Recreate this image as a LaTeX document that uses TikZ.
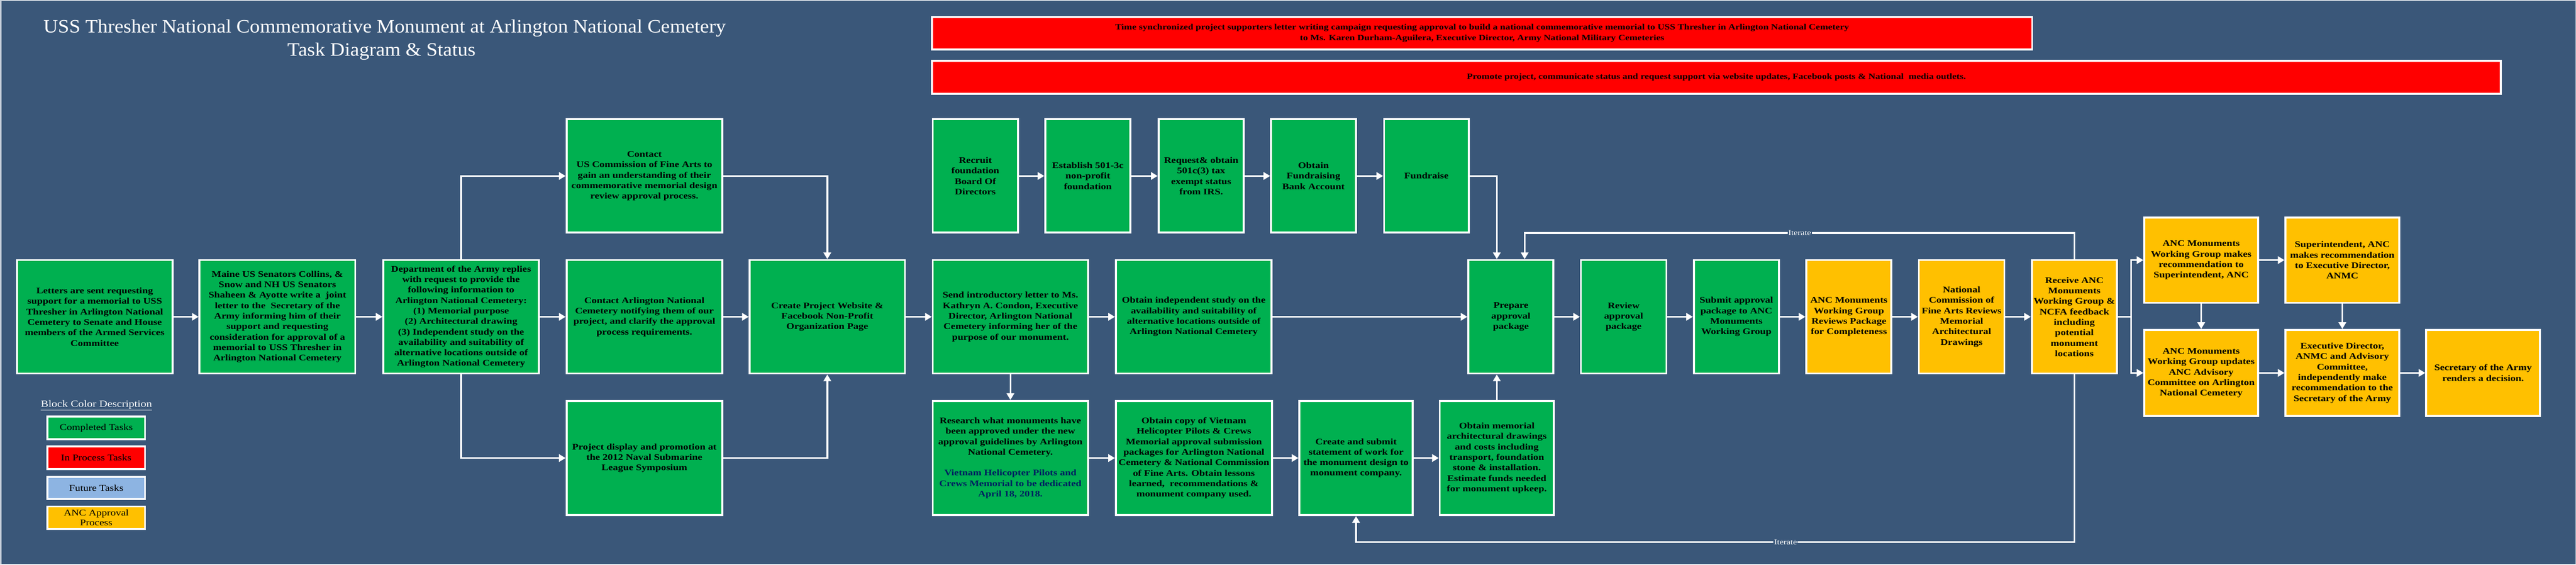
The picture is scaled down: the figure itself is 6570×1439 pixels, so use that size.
\documentclass[tikz,border=0pt]{standalone}
\usepackage{fontspec}
\setmainfont[FakeStretch=1.2]{Liberation Serif}
\newfontfamily\titlefont[FakeStretch=1.07]{Liberation Serif}
\usetikzlibrary{arrows.meta,calc}
\definecolor{bgblue}{RGB}{58,87,121}
\definecolor{edgegray}{RGB}{200,208,218}
\definecolor{tgreen}{RGB}{0,176,80}
\definecolor{tred}{RGB}{255,0,0}
\definecolor{tyellow}{RGB}{255,192,0}
\definecolor{tlblue}{RGB}{141,180,226}
\definecolor{tnavy}{RGB}{0,32,96}
\newcommand\bx[7]{%
  \pgfmathsetmacro\bxcx{(#2+#4)/2}%
  \pgfmathsetmacro\bxcy{(#3+#5)/2}%
  \pgfmathsetmacro\bxw{#4-#2}%
  \pgfmathsetmacro\bxh{#5-#3}%
  \node[#6, minimum width=\bxw pt, minimum height=\bxh pt] (#1) at (\bxcx,\bxcy) {#7};}
\begin{document}
\begin{tikzpicture}[x=1pt,y=-1pt,
  box/.style={draw=white, line width=5pt, align=center, inner sep=2pt, text=black,
    font=\fontsize{21.8}{26.7}\selectfont\bfseries},
  gbox/.style={box, fill=tgreen},
  ybox/.style={box, fill=tyellow},
  rbox/.style={box, fill=tred, font=\fontsize{20.5}{28}\selectfont\bfseries},
  legbox/.style={box, font=\fontsize{22.5}{25}\selectfont},
  arr/.style={draw=white, line width=4.5pt, -{Triangle[length=17pt,width=19pt]}},
  conn/.style={draw=white, line width=4.5pt, line cap=rect},
  itlab/.style={fill=bgblue, text=white, inner sep=2pt, font=\fontsize{19}{20}\selectfont},
  titletext/.style={text=white, anchor=base, inner sep=0pt, font=\titlefont\fontsize{48}{56}\selectfont},
]
\useasboundingbox (0,0) rectangle (6570,1439);
\fill[edgegray] (0,0) rectangle (6570,1439);
\fill[bgblue] (4,2) rectangle (6568,1437);

% title
\node[titletext] (title1) at (981,83) {USS Thresher National Commemorative Monument at Arlington National Cemetery};
\node[titletext] (title2) at (973,142) {Task Diagram \& Status};

% banners
\bx{ban1}{2377}{43}{5183}{126}{rbox}{Time synchronized project supporters letter writing campaign requesting approval to build a national commemorative memorial to USS Thresher in Arlington National Cemetery\\to Ms. Karen Durham-Aguilera, Executive Director, Army National Military Cemeteries}
\bx{ban2}{2377}{155}{6378}{239}{rbox}{Promote project, communicate status and request support via website updates, Facebook posts \& National\ \ media outlets.}

% main row
\bx{B1}{43}{663}{440}{952}{gbox}{Letters are sent requesting\\support for a memorial to USS\\Thresher in Arlington National\\Cemetery to Senate and House\\members of the Armed Services\\Committee}
\bx{B2}{509}{663}{906}{952}{gbox}{Maine US Senators Collins, \&\\Snow and NH US Senators\\Shaheen \& Ayotte write a\ \ joint\\letter to the\ \ Secretary of the\\Army informing him of their\\support and requesting\\consideration for approval of a\\memorial to USS Thresher in\\Arlington National Cemetery}
\bx{B3}{978}{663}{1374}{952}{gbox}{Department of the Army replies\\with request to provide the\\following information to\\Arlington National Cemetery:\\(1) Memorial purpose\\(2) Architectural drawing\\(3) Independent study on the\\availability and suitability of\\alternative locations outside of\\Arlington National Cemetery}
\bx{B4}{1445}{663}{1842}{952}{gbox}{Contact Arlington National\\Cemetery notifying them of our\\project, and clarify the approval\\process requirements.}
\bx{B5}{1912}{663}{2308}{952}{gbox}{Create Project Website \&\\Facebook Non-Profit\\Organization Page}
\bx{B6}{2379}{663}{2775}{952}{gbox}{Send introductory letter to Ms.\\Kathryn A. Condon, Executive\\Director, Arlington National\\Cemetery informing her of the\\purpose of our monument.}
\bx{B7}{2846}{663}{3243}{952}{gbox}{Obtain independent study on the\\availability and suitability of\\alternative locations outside of\\Arlington National Cemetery}
\bx{B8}{3745}{663}{3962}{952}{gbox}{Prepare\\approval\\package}
\bx{B9}{4032}{663}{4250}{952}{gbox}{Review\\approval\\package}
\bx{B10}{4320}{663}{4537}{952}{gbox}{Submit approval\\package to ANC\\Monuments\\Working Group}
\bx{B11}{4607}{663}{4824}{952}{ybox}{ANC Monuments\\Working Group\\Reviews Package\\for Completeness}
\bx{B12}{4894}{663}{5112}{952}{ybox}{National\\Commission of\\Fine Arts Reviews\\Memorial\\Architectural\\Drawings}
\bx{B13}{5182}{663}{5399}{952}{ybox}{Receive ANC\\Monuments\\Working Group \&\\NCFA feedback\\including\\potential\\monument\\locations}

% top row
\bx{T1}{1445}{304}{1842}{593}{gbox}{Contact\\US Commission of Fine Arts to\\gain an understanding of their\\commemorative memorial design\\review approval process.}
\bx{T2}{2379}{304}{2596}{593}{gbox}{Recruit\\foundation\\Board Of\\Directors}
\bx{T3}{2666}{304}{2883}{593}{gbox}{Establish 501-3c\\non-profit\\foundation}
\bx{T4}{2955}{304}{3172}{593}{gbox}{Request\& obtain\\501c(3) tax\\exempt status\\from IRS.}
\bx{T5}{3242}{304}{3458}{593}{gbox}{Obtain\\Fundraising\\Bank Account}
\bx{T6}{3530}{304}{3746}{593}{gbox}{Fundraise}

% lower row
\bx{L1}{1445}{1022}{1842}{1313}{gbox}{Project display and promotion at\\the 2012 Naval Submarine\\League Symposium}
\bx{L2}{2379}{1022}{2775}{1313}{gbox}{Research what monuments have\\been approved under the new\\approval guidelines by Arlington\\National Cemetery.\\[26.7pt]\textcolor{tnavy}{Vietnam Helicopter Pilots and}\\\textcolor{tnavy}{Crews Memorial to be dedicated}\\\textcolor{tnavy}{April 18, 2018.}}
\bx{L3}{2846}{1022}{3244}{1313}{gbox}{Obtain copy of Vietnam\\Helicopter Pilots \& Crews\\Memorial approval submission\\packages for Arlington National\\Cemetery \& National Commission\\of Fine Arts. Obtain lessons\\learned,\ \ recommendations \&\\monument company used.}
\bx{L4}{3314}{1022}{3603}{1313}{gbox}{Create and submit\\statement of work for\\the monument design to\\monument company.}
\bx{L5}{3672}{1022}{3963}{1313}{gbox}{Obtain memorial\\architectural drawings\\and costs including\\transport, foundation\\stone \& installation.\\Estimate funds needed\\for monument upkeep.}

% ANC approval chain
\bx{R1}{5469}{554}{5759}{772}{ybox}{ANC Monuments\\Working Group makes\\recommendation to\\Superintendent, ANC}
\bx{R2}{5829}{554}{6119}{772}{ybox}{Superintendent, ANC\\makes recommendation\\to Executive Director,\\ANMC}
\bx{R3}{5469}{841}{5759}{1060}{ybox}{ANC Monuments\\Working Group updates\\ANC Advisory\\Committee on Arlington\\National Cemetery}
\bx{R4}{5829}{841}{6119}{1060}{ybox}{Executive Director,\\ANMC and Advisory\\Committee,\\independently make\\recommendation to the\\Secretary of the Army}
\bx{R5}{6188}{841}{6478}{1060}{ybox}{Secretary of the Army\\renders a decision.}

% legend
\node[text=white, anchor=base, inner sep=0pt, font=\fontsize{24}{26}\selectfont] (legtitle) at (246,1038) {\underline{Block Color Description}};
\bx{LG1}{121}{1062}{370}{1119}{legbox, fill=tgreen}{Completed Tasks}
\bx{LG2}{121}{1138}{370}{1196}{legbox, fill=tred}{In Process Tasks}
\bx{LG3}{121}{1215}{370}{1272}{legbox, fill=tlblue}{Future Tasks}
\bx{LG4}{121}{1291}{370}{1348}{legbox, fill=tyellow}{ANC Approval\\Process}

% connectors
\draw[arr] (B1.east) -- (B2.west);
\draw[arr] (B2.east) -- (B3.west);
\draw[arr] (B3.east) -- (B4.west);
\draw[arr] (B3.north) |- (T1.west);
\draw[arr] (B3.south) |- (L1.west);
\draw[arr] (T1.east) -| (B5.north);
\draw[arr] (B4.east) -- (B5.west);
\draw[arr] (L1.east) -| (B5.south);
\draw[arr] (B5.east) -- (B6.west);
\draw[arr] (B6.east) -- (B7.west);
\draw[arr] (B6.south) -- (L2.north);
\draw[arr] (B7.east) -- (B8.west);
\draw[arr] (T2.east) -- (T3.west);
\draw[arr] (T3.east) -- (T4.west);
\draw[arr] (T4.east) -- (T5.west);
\draw[arr] (T5.east) -- (T6.west);
\draw[arr] (T6.east) -| (B8.north -| L5.north);
\draw[arr] (L2.east) -- (L3.west);
\draw[arr] (L3.east) -- (L4.west);
\draw[arr] (L4.east) -- (L5.west);
\draw[arr] (L5.north) -- (L5.north |- B8.south);
\draw[arr] (B8.east) -- (B9.west);
\draw[arr] (B9.east) -- (B10.west);
\draw[arr] (B10.east) -- (B11.west);
\draw[arr] (B11.east) -- (B12.west);
\draw[arr] (B12.east) -- (B13.west);
\coordinate (br) at ($(B13.east)+(34,0)$);
\draw[conn] (B13.east) -- (br);
\draw[arr] (br) |- (R1.west);
\draw[arr] (br) |- (R3.west);
\draw[arr] (R1.east) -- (R2.west);
\draw[arr] (R1.south) -- (R3.north);
\draw[arr] (R2.south) -- (R4.north);
\draw[arr] (R3.east) -- (R4.west);
\draw[arr] (R4.east) -- (R5.west);
% iterate loops
\coordinate (b8r) at ($(B8.north)+(35,0)$);
\coordinate (itopy) at (0,594);
\coordinate (iboty) at (0,1382);
\draw[arr] (B13.north) -- (B13.north |- itopy) -| (b8r);
\draw[arr] (B13.south) -- (B13.south |- iboty) -| (L4.south);
\node[itlab] (it1) at (4590,594) {Iterate};
\node[itlab] (it2) at (4554,1382) {Iterate};
\end{tikzpicture}
\end{document}
